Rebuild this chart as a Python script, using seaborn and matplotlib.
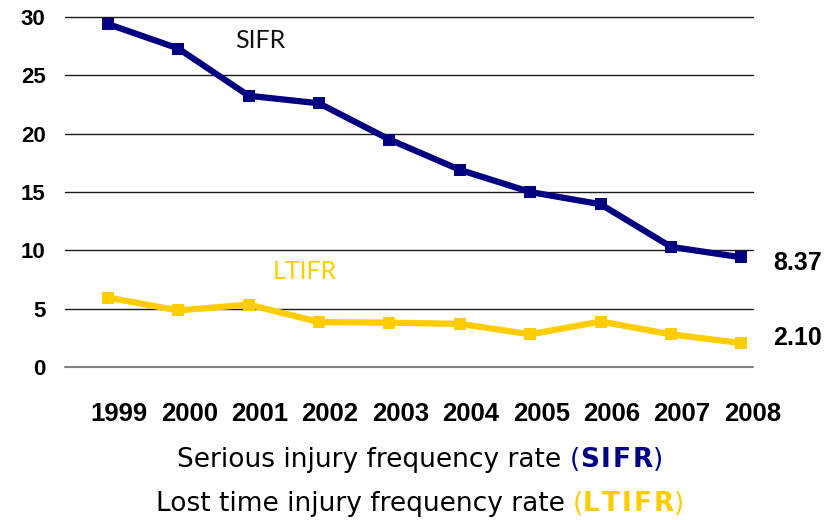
import numpy as np
import pandas as pd
import matplotlib
matplotlib.use("Agg")
import matplotlib.pyplot as plt
import matplotlib.transforms as mtransforms
from matplotlib.offsetbox import TextArea, HPacker, VPacker, AnchoredOffsetbox
import seaborn as sns

# values
years = [1999, 2000, 2001, 2002, 2003, 2004, 2005, 2006, 2007, 2008]
sifr = [29.4, 27.3, 23.25, 22.6, 19.5, 16.9, 15.0, 13.95, 10.3, 9.4]
ltifr = [5.95, 4.85, 5.35, 3.85, 3.8, 3.7, 2.8, 3.9, 2.8, 2.05]
end_labels = ["8.37", "2.10"]
yticks = [0, 5, 10, 15, 20, 25, 30]

navy = "#000080"
gold = "#FFCC00"

sns.set_style("white")
plt.rcParams["font.family"] = ["Liberation Sans", "DejaVu Sans"]

df = pd.DataFrame({"year": years + years,
                   "rate": sifr + ltifr,
                   "series": ["SIFR"] * len(years) + ["LTIFR"] * len(years)})

fig = plt.figure(figsize=(8.4, 5.2), dpi=100)
ax = fig.add_axes([0.0774, 0.2942, 0.8186, 0.6731])

sns.lineplot(data=df, x="year", y="rate", hue="series",
             palette={"SIFR": navy, "LTIFR": gold}, marker="s",
             markersize=8, markeredgewidth=0, linewidth=4.5,
             legend=False, ax=ax, zorder=3, clip_on=False)

ax.set_xlim(1999 - 0.61, 2008 + 0.16)
ax.set_ylim(0, 30)
ax.set_yticks(yticks)
ax.set_xticks(years)
ax.yaxis.grid(False)
ax.xaxis.grid(False)
# horizontal grid lines, the zero line drawn in grey
for v in yticks:
    ax.axhline(v, color="#808080" if v == 0 else "#1a1a1a",
               linewidth=1.5 if v == 0 else 1, zorder=1, clip_on=False)
for s in ax.spines.values():
    s.set_visible(False)
ax.tick_params(axis="y", length=0, pad=14, labelsize=16, labelcolor="black")
ax.tick_params(axis="x", length=0, pad=25, labelsize=18.5, labelcolor="black")
for t in ax.get_yticklabels() + ax.get_xticklabels():
    t.set_fontweight("bold")
shift = mtransforms.ScaledTranslation(11 / 100, 0, fig.dpi_scale_trans)
for t in ax.get_xticklabels():
    t.set_transform(t.get_transform() + shift)
ax.set_xlabel("")
ax.set_ylabel("")

# series names inside the plot
ax.text(2001.16, 28.0, "SIFR", fontsize=18, color="#111111",
        ha="center", va="center", family=["Lato", "DejaVu Sans"])
ax.text(2001.8, 8.2, "LTIFR", fontsize=18, color=gold,
        ha="center", va="center", family=["Lato", "DejaVu Sans"])

# end value labels
ax.text(2008.45, 8.9, end_labels[0], fontsize=18, fontweight="bold",
        ha="left", va="center", clip_on=False, color="black")
ax.text(2008.45, 2.5, end_labels[1], fontsize=18, fontweight="bold",
        ha="left", va="center", clip_on=False, color="black")


# legend-like captions below the chart
fp = dict(family="DejaVu Sans", size=19)


def caption(plain, abbr, colour):
    letters = HPacker(children=[
        TextArea(ch, textprops=dict(color=colour, weight="bold", **fp))
        for ch in abbr], pad=0, sep=1.5, align="baseline")
    return HPacker(children=[
        TextArea(plain, textprops=dict(color="black", **fp)),
        TextArea("(", textprops=dict(color=colour, **fp)),
        letters,
        TextArea(")", textprops=dict(color=colour, **fp)),
    ], pad=0, sep=0, align="baseline")


line1 = caption("Serious injury frequency rate ", "SIFR", navy)
line2 = caption("Lost time injury frequency rate ", "LTIFR", gold)
box = VPacker(children=[line1, line2], align="center", pad=0, sep=13)
anchored = AnchoredOffsetbox(loc="center", child=box, frameon=False,
                             bbox_to_anchor=(0.5, 0.073),
                             bbox_transform=fig.transFigure, pad=0, borderpad=0)
fig.add_artist(anchored)

fig.savefig("out.png", dpi=100)
